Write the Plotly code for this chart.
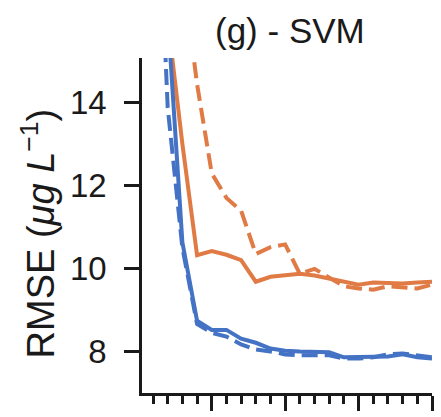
import plotly.graph_objects as go

# Number of selected features (index) and RMSE for each model variant
n_features = list(range(1, 21))

blue_solid = [24.0, 16.1, 10.63, 8.74, 8.52, 8.52, 8.31, 8.21, 8.07, 8.02,
              8.00, 8.00, 7.98, 7.86, 7.86, 7.88, 7.88, 7.93, 7.86, 7.83]
blue_dashed = [22.0, 13.88, 10.50, 8.66, 8.45, 8.36, 8.17, 8.05, 8.00, 7.93,
               7.91, 7.91, 7.91, 7.83, 7.83, 7.86, 7.93, 7.95, 7.91, 7.86]
orange_solid = [24.0, 16.0, 13.0, 10.32, 10.42, 10.33, 10.20, 9.68, 9.80, 9.83,
                9.87, 9.83, 9.75, 9.68, 9.61, 9.66, 9.64, 9.64, 9.66, 9.68]
orange_dashed = [26.0, 22.0, 17.2, 14.44, 12.29, 11.70, 11.39, 10.35, 10.51, 10.58,
                 9.87, 9.99, 9.78, 9.57, 9.52, 9.49, 9.57, 9.54, 9.52, 9.61]

y_ticks = [8, 10, 12, 14]
x_major = [5, 10, 15, 20]

BLUE = "#4472C4"
ORANGE = "#E07B45"
INK = "#1a1a1a"
FONT = "Liberation Sans, Arial, sans-serif"
LW = 4
DASH = "16px,7px"

fig = go.Figure()
for ys, color, dash in [
    (orange_dashed, ORANGE, DASH),
    (orange_solid, ORANGE, "solid"),
    (blue_dashed, BLUE, DASH),
    (blue_solid, BLUE, "solid"),
]:
    fig.add_trace(go.Scatter(
        x=n_features, y=ys, mode="lines",
        line=dict(color=color, width=LW, dash=dash),
        showlegend=False, hoverinfo="skip",
    ))

fig.update_layout(
    width=441, height=417,
    margin=dict(l=142, r=9, t=58, b=19, pad=0),
    paper_bgcolor="white", plot_bgcolor="white",
    font=dict(family=FONT, color=INK, size=32),
)

fig.update_xaxes(
    range=[0.25, 20], showgrid=False, zeroline=False,
    showline=True, linecolor=INK, linewidth=2.5,
    tickmode="array", tickvals=x_major, showticklabels=False,
    ticks="outside", ticklen=15, tickwidth=2.5, tickcolor=INK,
    minor=dict(tickmode="linear", tick0=1, dtick=1, ticks="outside",
               ticklen=8, tickwidth=2.5, tickcolor=INK, showgrid=False),
)
fig.update_yaxes(
    range=[7.0, 15.07], showgrid=False, zeroline=False,
    showline=True, linecolor=INK, linewidth=2.5,
    tickmode="array", tickvals=y_ticks, ticktext=[str(v) for v in y_ticks],
    ticks="outside", ticklen=15, tickwidth=2.5, tickcolor=INK,
    ticklabelstandoff=11,
    tickfont=dict(family=FONT, size=33, color=INK),
)

fig.add_annotation(
    text="(g) - SVM", xref="paper", yref="paper",
    x=(290 - 142) / 290, y=1 + (58 - 30) / 340, xanchor="center", yanchor="middle",
    showarrow=False, font=dict(family=FONT, size=35, color=INK),
)
fig.add_annotation(
    text="RMSE (<i>μg L</i><sup>−1</sup>)", xref="paper", yref="paper",
    x=(38 - 142) / 290, y=(398 - 236) / 340, xanchor="center", yanchor="middle",
    textangle=-90, showarrow=False,
    font=dict(family=FONT, size=38, color=INK),
)

fig.write_html("out.html")
